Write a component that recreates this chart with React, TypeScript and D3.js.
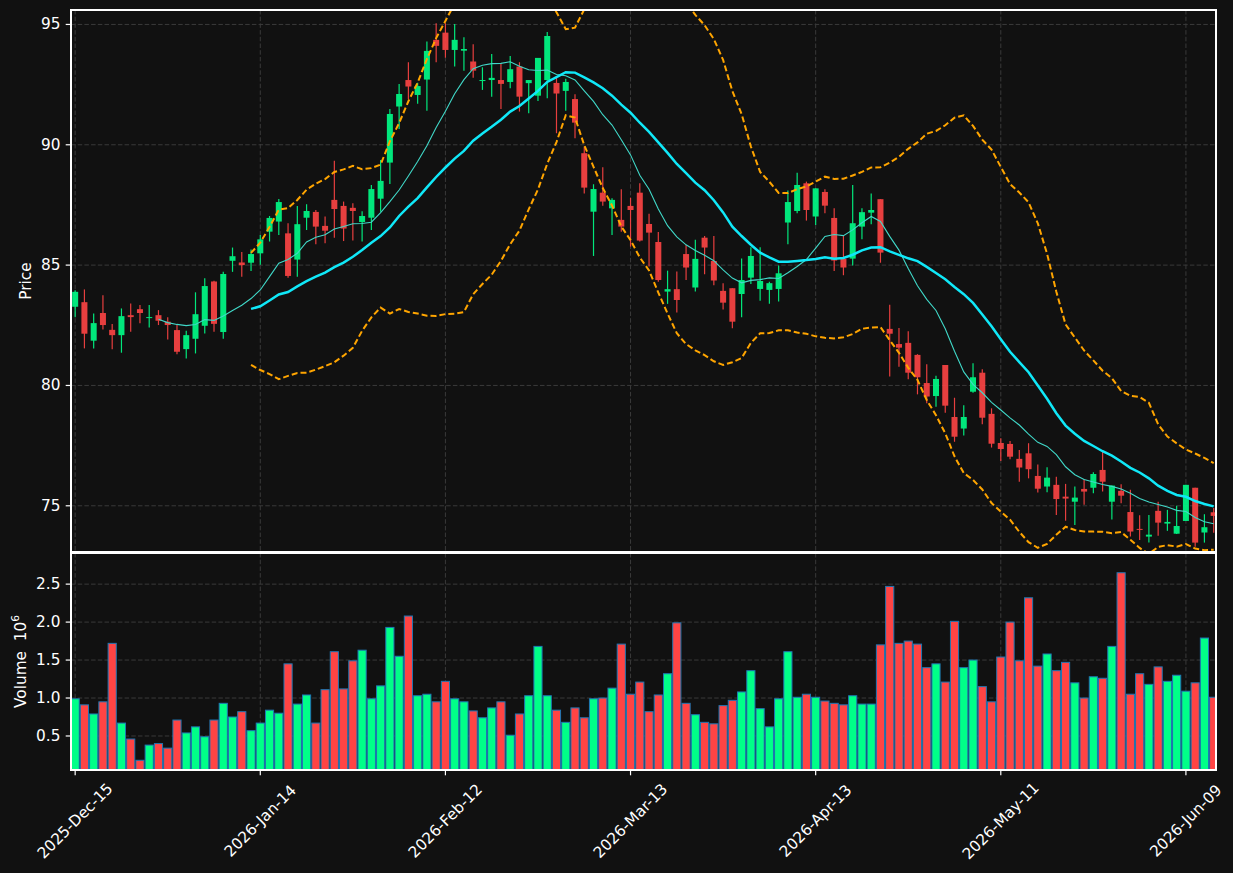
import * as d3 from "d3";

// trading calendar
const startDate = "2025-12-15";
const marketHolidays = ["2025-12-25", "2026-01-01", "2026-01-19", "2026-02-16", "2026-04-03", "2026-05-25"];

// OHLC
const opens = [
  83.27, 83.46, 81.86, 83.01, 82.31, 82.09, 82.92, 83.17, 82.81, 82.92,
  82.65, 82.3, 81.51, 81.94, 82.48, 84.32, 82.22, 85.18, 85.11, 85.1,
  85.49, 86.39, 86.81, 86.32, 85.23, 86.97, 87.21, 86.63, 87.71, 87.46,
  87.38, 86.79, 86.97, 87.76, 89.26, 91.59, 92.69, 92.07, 92.71, 94.36,
  94.66, 93.94, 93.91, 93.46, 92.67, 92.69, 92.69, 92.61, 93.25, 92.56,
  92.04, 92.69, 92.57, 92.24, 91.9, 89.65, 87.22, 88.01, 87.36, 86.88,
  87.46, 88.01, 86.71, 85.96, 83.9, 84.0, 85.46, 84.07, 86.14, 85.17,
  83.93, 84.04, 83.8, 84.48, 84.01, 83.97, 84.01, 86.77, 87.25, 88.4,
  87.02, 88.04, 86.96, 85.26, 85.27, 86.6, 87.18, 87.74, 82.35, 81.72,
  81.77, 81.27, 80.1, 79.56, 80.85, 78.69, 78.21, 79.74, 80.53, 78.82,
  77.61, 77.57, 76.95, 77.18, 76.24, 75.8, 75.87, 75.38, 75.17, 75.7,
  75.75, 76.49, 75.17, 75.62, 74.74, 74.04, 73.72, 74.79, 74.26, 73.84,
  74.37, 75.75, 73.89, 74.73,
];
const highs = [
  83.96, 83.99, 82.99, 83.75, 82.55, 83.2, 83.41, 83.34, 83.34, 83.13,
  82.83, 82.55, 82.27, 83.87, 84.45, 84.35, 84.72, 85.73, 85.55, 85.65,
  86.25, 87.04, 87.75, 86.74, 87.46, 87.53, 87.29, 87.02, 89.34, 87.64,
  87.57, 87.24, 88.33, 89.37, 91.49, 92.53, 93.43, 92.58, 94.29, 95.05,
  95.05, 95.02, 94.47, 94.18, 93.22, 93.77, 93.39, 93.69, 93.43, 92.69,
  93.61, 94.69, 92.79, 92.74, 92.1, 89.92, 88.36, 89.07, 87.78, 88.15,
  87.8, 88.4, 87.13, 86.38, 84.77, 84.73, 85.84, 86.05, 86.21, 86.21,
  84.25, 84.04, 85.28, 85.74, 85.74, 84.31, 84.98, 88.1, 88.84, 88.47,
  88.19, 88.15, 87.36, 86.25, 88.33, 87.36, 87.98, 87.74, 83.35, 82.39,
  82.25, 81.3, 80.88, 80.4, 80.85, 79.49, 79.18, 80.92, 80.67, 79.05,
  77.81, 77.69, 77.32, 77.6, 76.72, 76.6, 76.21, 75.91, 75.8, 76.11,
  76.39, 77.25, 75.84, 75.9, 75.67, 74.61, 74.62, 75.17, 74.83, 75.0,
  75.87, 75.75, 74.65, 74.91,
];
const lows = [
  82.83, 81.54, 81.54, 82.33, 81.5, 81.36, 82.23, 82.58, 82.41, 82.51,
  81.91, 81.3, 81.12, 81.33, 82.16, 82.23, 81.94, 84.72, 84.52, 84.76,
  85.01, 85.98, 86.25, 84.48, 84.52, 86.46, 85.87, 85.91, 86.14, 86.0,
  86.02, 85.98, 86.46, 87.22, 88.37, 90.66, 91.89, 91.7, 91.41, 93.43,
  93.62, 93.25, 93.08, 92.79, 92.28, 92.0, 91.49, 92.35, 91.38, 91.31,
  91.82, 91.93, 90.48, 91.41, 90.27, 87.98, 85.38, 87.47, 86.25, 86.39,
  85.77, 85.98, 84.94, 84.31, 83.39, 83.03, 84.38, 83.9, 84.62, 84.16,
  83.16, 82.38, 82.83, 84.22, 83.52, 83.39, 83.49, 85.87, 87.15, 86.85,
  86.67, 87.15, 84.76, 84.58, 84.98, 86.07, 86.7, 85.1, 80.37, 80.78,
  80.26, 79.63, 79.26, 79.12, 78.87, 77.66, 77.92, 79.7, 78.39, 77.42,
  76.86, 76.93, 76.0, 76.14, 75.55, 75.56, 74.62, 74.38, 74.2, 75.04,
  75.52, 75.59, 74.43, 75.11, 73.72, 73.58, 73.47, 73.76, 73.96, 73.83,
  74.37, 73.3, 73.47, 73.88,
];
const closes = [
  83.89, 82.15, 82.59, 82.51, 82.09, 82.88, 82.84, 83.01, 82.84, 82.69,
  82.51, 81.4, 82.09, 82.96, 84.13, 82.56, 84.63, 85.37, 85.0, 85.46,
  86.07, 86.96, 87.62, 84.55, 86.7, 87.25, 86.6, 86.43, 87.33, 86.52,
  87.25, 87.04, 88.16, 88.5, 91.28, 92.11, 92.42, 92.44, 93.9, 94.11,
  93.94, 94.36, 93.98, 93.08, 92.69, 92.78, 92.53, 93.14, 92.0, 92.69,
  93.61, 94.52, 92.13, 92.61, 90.92, 88.22, 88.16, 87.64, 87.71, 86.6,
  87.29, 86.02, 86.35, 84.38, 84.0, 83.55, 84.9, 85.26, 85.73, 84.36,
  83.44, 82.65, 84.38, 85.38, 84.34, 84.25, 84.66, 87.62, 88.33, 87.29,
  88.19, 87.47, 85.19, 84.9, 86.74, 87.2, 87.29, 85.52, 82.15, 81.57,
  80.53, 80.34, 79.54, 80.27, 79.16, 77.87, 78.69, 80.34, 78.66, 77.58,
  77.36, 77.04, 76.59, 76.52, 75.71, 76.17, 75.28, 75.3, 75.34, 75.59,
  76.32, 76.0, 75.84, 75.42, 73.93, 74.0, 73.8, 74.3, 74.33, 74.16,
  75.87, 73.47, 74.11, 74.58,
];
// volume in millions
const volumes = [
  0.99, 0.91, 0.79, 0.95, 1.72, 0.67, 0.46, 0.18, 0.38, 0.4,
  0.34, 0.71, 0.54, 0.62, 0.49, 0.71, 0.93, 0.75, 0.82, 0.57,
  0.67, 0.84, 0.8, 1.45, 0.92, 1.04, 0.67, 1.11, 1.61, 1.12,
  1.49, 1.63, 0.99, 1.16, 1.93, 1.55, 2.08, 1.03, 1.05, 0.95,
  1.22, 0.99, 0.95, 0.83, 0.74, 0.87, 0.95, 0.51, 0.79, 1.03,
  1.68, 1.03, 0.84, 0.68, 0.87, 0.74, 0.99, 1.0, 1.13, 1.71,
  1.05, 1.21, 0.82, 1.04, 1.32, 1.99, 0.93, 0.78, 0.68, 0.66,
  0.9, 0.97, 1.08, 1.36, 0.86, 0.62, 0.99, 1.61, 1.01, 1.05,
  1.01, 0.96, 0.93, 0.91, 1.03, 0.92, 0.92, 1.7, 2.47, 1.72,
  1.75, 1.71, 1.4, 1.45, 1.21, 2.01, 1.4, 1.5, 1.15, 0.95,
  1.54, 2.0, 1.49, 2.32, 1.42, 1.58, 1.36, 1.47, 1.2, 1.0,
  1.28, 1.26, 1.68, 2.65, 1.05, 1.32, 1.18, 1.41, 1.22, 1.3,
  1.09, 1.2, 1.79, 1.01,
];

const priceTicks = [75, 80, 85, 90, 95];
const volumeTicks = [0.5, 1.0, 1.5, 2.0, 2.5];
const tickEvery = 20;

const W = 1233;
const H = 873;
const L = 71;
const R = 1216;
const pTop = 10;
const pBot = 552;
const vTop = 553;
const vBot = 770;

const BG = "#111111";
const UP = "#00ff88";
const DOWN = "#ff4444";
const TXT = "#ffffff";
const GRID = "#3a3a3a";
const FONT = "DejaVu Sans, sans-serif";

function tradingDays(start: string, n: number, holidays: string[]) {
  const out: Date[] = [];
  const skip = new Set(holidays);
  const d = new Date(start + "T00:00:00Z");
  while (out.length < n) {
    const dow = d.getUTCDay();
    const key = d.toISOString().slice(0, 10);
    if (dow !== 0 && dow !== 6 && !skip.has(key)) out.push(new Date(d));
    d.setUTCDate(d.getUTCDate() + 1);
  }
  return out;
}

function sma(arr: number[], p: number) {
  return arr.map((_, i) => (i < p - 1 ? null : (d3.mean(arr.slice(i - p + 1, i + 1)) as number)));
}

function band(arr: number[], p: number, k: number) {
  return arr.map((_, i) => {
    if (i < p - 1) return null;
    const s = arr.slice(i - p + 1, i + 1);
    return (d3.mean(s) as number) + k * (d3.deviation(s) as number);
  });
}

export default function App() {
  const n = closes.length;
  const dates = tradingDays(startDate, n, marketHolidays);
  const fmt = d3.utcFormat("%Y-%b-%d");

  const x = d3.scaleLinear().domain([-0.45, n - 0.75]).range([L, R]);
  const yP = d3.scaleLinear().domain([73.08, 95.6]).range([pBot, pTop]);
  const yV = d3.scaleLinear().domain([0.052, 2.91]).range([vBot, vTop]);
  const step = x(1) - x(0);
  const bodyW = step * 0.65;
  const volW = step * 0.88;

  const ma10 = sma(closes, 10);
  const ma20 = sma(closes, 20);
  const bbUp = band(closes, 20, 2);
  const bbLo = band(closes, 20, -2);

  const line = d3
    .line<number | null>()
    .defined((v) => v != null)
    .x((_, i) => x(i))
    .y((v) => yP(v as number));

  const xTicks = d3.range(0, n, tickEvery);

  return (
    <svg
      width={W}
      height={H}
      style={{ position: "absolute", left: 0, top: 0, background: BG }}
      fontFamily={FONT}
    >
      <defs>
        <clipPath id="clipP">
          <rect x={L} y={pTop} width={R - L} height={pBot - pTop} />
        </clipPath>
        <clipPath id="clipV">
          <rect x={L} y={vTop} width={R - L} height={vBot - vTop} />
        </clipPath>
      </defs>
      <rect width={W} height={H} fill={BG} />

      {/* grid */}
      <g stroke={GRID} strokeWidth={1} strokeDasharray="4.5,2.2">
        {priceTicks.map((t) => (
          <line key={"gp" + t} x1={L} x2={R} y1={yP(t)} y2={yP(t)} />
        ))}
        {volumeTicks.map((t) => (
          <line key={"gv" + t} x1={L} x2={R} y1={yV(t)} y2={yV(t)} />
        ))}
        {xTicks.map((i) => (
          <g key={"gx" + i}>
            <line x1={x(i)} x2={x(i)} y1={pTop} y2={pBot} />
            <line x1={x(i)} x2={x(i)} y1={vTop} y2={vBot} />
          </g>
        ))}
      </g>

      {/* volume */}
      <g clipPath="url(#clipV)">
        {volumes.map((v, i) => (
          <rect
            key={"v" + i}
            x={x(i) - volW / 2}
            y={yV(v)}
            width={volW}
            height={vBot + 5 - yV(v)}
            fill={closes[i] >= opens[i] ? UP : DOWN}
            stroke="#1f77b4"
            strokeWidth={1}
          />
        ))}
      </g>

      {/* candles */}
      <g clipPath="url(#clipP)" opacity={0.9}>
        {closes.map((c, i) => {
          const o = opens[i];
          const col = c >= o ? UP : DOWN;
          const top = yP(Math.max(o, c));
          const bh = Math.max(1, Math.abs(yP(o) - yP(c)));
          return (
            <g key={"c" + i}>
              <line x1={x(i)} x2={x(i)} y1={yP(highs[i])} y2={yP(lows[i])} stroke={col} strokeWidth={1.2} />
              <rect x={x(i) - bodyW / 2} y={top} width={bodyW} height={bh} fill={col} />
            </g>
          );
        })}
      </g>

      {/* indicators */}
      <g clipPath="url(#clipP)" fill="none">
        <path d={line(bbUp) || ""} stroke="#ffa500" strokeWidth={2} strokeDasharray="6,3" />
        <path d={line(bbLo) || ""} stroke="#ffa500" strokeWidth={2} strokeDasharray="6,3" />
        <path d={line(ma10) || ""} stroke="#40d8c8" strokeWidth={1.1} />
        <path d={line(ma20) || ""} stroke="#10e8f8" strokeWidth={2.5} />
      </g>

      {/* spines */}
      <g fill="none" stroke="#ffffff" strokeWidth={1.3} shapeRendering="crispEdges">
        <rect x={L} y={pTop} width={R - L} height={pBot - pTop} />
        <rect x={L} y={vTop} width={R - L} height={vBot - vTop} />
      </g>

      {/* y ticks */}
      <g fill={TXT} fontSize={15.3} textAnchor="end">
        {priceTicks.map((t) => (
          <g key={"tp" + t}>
            <line x1={L - 5.3} x2={L} y1={yP(t)} y2={yP(t)} stroke="#ffffff" strokeWidth={1.2} />
            <text x={L - 10.6} y={yP(t)} dominantBaseline="central">
              {t}
            </text>
          </g>
        ))}
        {volumeTicks.map((t) => (
          <g key={"tv" + t}>
            <line x1={L - 5.3} x2={L} y1={yV(t)} y2={yV(t)} stroke="#ffffff" strokeWidth={1.2} />
            <text x={L - 10.6} y={yV(t)} dominantBaseline="central">
              {t.toFixed(1)}
            </text>
          </g>
        ))}
      </g>

      {/* x ticks */}
      <g fill={TXT} fontSize={15.3} textAnchor="middle">
        {xTicks.map((i) => (
          <g key={"tx" + i}>
            <line x1={x(i)} x2={x(i)} y1={vBot} y2={vBot + 5.3} stroke="#ffffff" strokeWidth={1.2} />
            <text
              transform={`translate(${x(i)},${821}) rotate(-45)`}
              dominantBaseline="central"
            >
              {fmt(dates[i])}
            </text>
          </g>
        ))}
      </g>

      {/* axis labels */}
      <text
        transform={`translate(26,${(pTop + pBot) / 2}) rotate(-90)`}
        fill={TXT}
        fontSize={15.3}
        textAnchor="middle"
        dominantBaseline="central"
      >
        Price
      </text>
      <text
        transform={`translate(21,${(vTop + vBot) / 2}) rotate(-90)`}
        fill={TXT}
        fontSize={15.3}
        textAnchor="middle"
        dominantBaseline="central"
        style={{ whiteSpace: "pre" }}
      >
        {"Volume  10"}
        <tspan fontSize={10.7} dy={-6}>
          6
        </tspan>
      </text>
    </svg>
  );
}
